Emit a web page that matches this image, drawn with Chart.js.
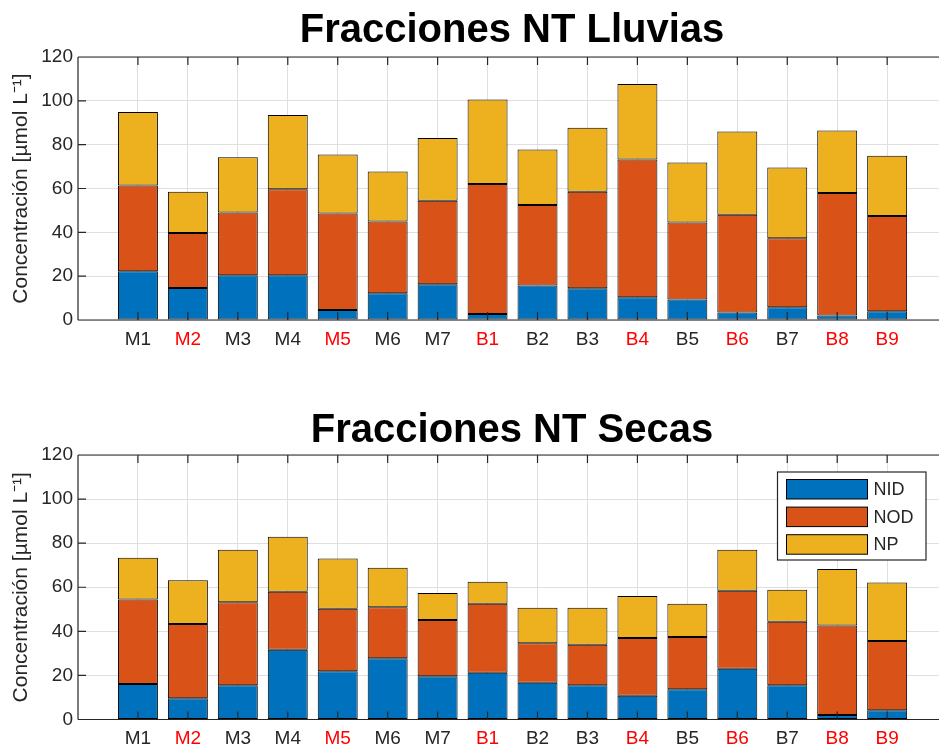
<!DOCTYPE html>
<html>
<head>
<meta charset="utf-8">
<script src="https://cdn.jsdelivr.net/npm/chart.js@4.4.1/dist/chart.umd.min.js"></script>
<style>
  html, body { margin: 0; padding: 0; background: #fff; overflow: hidden; width: 939px; height: 746px; }
  #wrap1 { position: absolute; left: 0; top: 0; width: 1024px; height: 370px; }
  #wrap2 { position: absolute; left: 0; top: 370px; width: 1024px; height: 376px; }
</style>
</head>
<body>
<div id="wrap1"><canvas id="c1" width="1024" height="370"></canvas></div>
<div id="wrap2"><canvas id="c2" width="1024" height="376"></canvas></div>
<script>
// ---- data ----
const categories = ['M1','M2','M3','M4','M5','M6','M7','B1','B2','B3','B4','B5','B6','B7','B8','B9'];
const redLabels = ['M2','M5','B1','B4','B6','B8','B9'];
const seriesNames = ['NID','NOD','NP'];

const lluviasNID = [22.2, 14.6, 20.4, 20.4, 4.6, 12.2, 16.3, 2.7, 15.7, 14.5, 10.4, 9.3, 3.4, 5.8, 2.1, 4.0];
const lluviasNOD = [39.2, 25.1, 28.6, 39.3, 44.0, 32.7, 38.1, 59.3, 36.8, 44.0, 62.8, 35.2, 44.6, 31.5, 55.8, 43.4];
const lluviasNP  = [33.5, 18.8, 25.3, 33.8, 26.9, 22.9, 28.6, 38.6, 25.3, 29.2, 34.5, 27.4, 38.0, 32.3, 28.6, 27.5];

const secasNID = [16.1, 9.6, 15.5, 31.7, 21.9, 27.8, 19.6, 21.2, 16.7, 15.5, 10.8, 13.7, 23.0, 15.5, 2.0, 4.2];
const secasNOD = [38.3, 33.7, 37.7, 26.3, 28.4, 23.1, 25.5, 31.3, 17.9, 18.4, 26.2, 23.7, 35.4, 28.9, 40.7, 31.4];
const secasNP  = [19.0, 19.9, 23.8, 24.9, 22.7, 18.0, 12.3, 10.0, 16.1, 16.8, 19.0, 15.1, 18.6, 14.5, 25.6, 26.5];

const yTicks = [0, 20, 40, 60, 80, 100, 120];
const yTitle = 'Concentración [µmol L⁻¹]';
const titles = ['Fracciones NT Lluvias', 'Fracciones NT Secas'];

// ---- styles ----
const colors = ['#0072BD', '#D95319', '#EDB120'];
const axisColor = '#262626';
const gridColor = '#dfdfdf';
Chart.defaults.font.family = 'Arial, "Liberation Sans", Helvetica, sans-serif';
Chart.defaults.color = axisColor;

function toPoints(arr) { return arr.map((v, i) => ({ x: i + 1, y: v })); }

const boxPlugin = {
  id: 'matlabBox',
  afterDraw(chart) {
    const { ctx, chartArea: a, scales } = chart;
    ctx.save();
    ctx.strokeStyle = axisColor;
    ctx.lineWidth = 1.2;
    ctx.beginPath();
    ctx.moveTo(a.left, a.bottom); ctx.lineTo(a.right, a.bottom);
    ctx.moveTo(a.left, a.top); ctx.lineTo(a.right, a.top);
    ctx.moveTo(a.left, a.top); ctx.lineTo(a.left, a.bottom);
    const tl = 8;
    categories.forEach((c, i) => {
      const x = scales.x.getPixelForValue(i + 1);
      ctx.moveTo(x, a.bottom); ctx.lineTo(x, a.bottom - tl);
      ctx.moveTo(x, a.top); ctx.lineTo(x, a.top + tl);
    });
    yTicks.forEach(v => {
      const y = scales.y.getPixelForValue(v);
      ctx.moveTo(a.left, y); ctx.lineTo(a.left + tl, y);
    });
    ctx.stroke();
    ctx.restore();
  }
};

const legendPlugin = {
  id: 'insideLegend',
  afterDraw(chart, args, opts) {
    if (!opts || !opts.show) return;
    const { ctx, chartArea: a } = chart;
    const bx = 777.5, by = a.top + 17, bw = 148.5, bh = 88;
    ctx.save();
    ctx.fillStyle = '#fff';
    ctx.fillRect(bx, by, bw, bh);
    ctx.strokeStyle = axisColor;
    ctx.lineWidth = 1.2;
    ctx.strokeRect(bx, by, bw, bh);
    ctx.font = '18px Arial, "Liberation Sans", sans-serif';
    ctx.textBaseline = 'middle';
    chart.data.datasets.forEach((ds, i) => {
      const cy = by + 17 + i * 27.6;
      ctx.fillStyle = ds.backgroundColor;
      ctx.fillRect(bx + 9, cy - 9.5, 81, 19.5);
      ctx.strokeStyle = '#000';
      ctx.lineWidth = 1;
      ctx.strokeRect(bx + 9, cy - 9.5, 81, 19.5);
      ctx.fillStyle = axisColor;
      ctx.fillText(ds.label, bx + 96, cy + 1);
    });
    ctx.restore();
  }
};

function makeChart(canvasId, title, nid, nod, np, titlePad, xAxisHeight, showLegend) {
  const series = [nid, nod, np];
  return new Chart(document.getElementById(canvasId), {
    type: 'bar',
    data: {
      datasets: series.map((arr, k) => ({
        label: seriesNames[k],
        data: toPoints(arr),
        backgroundColor: colors[k],
        borderColor: '#000',
        borderWidth: 1,
        borderSkipped: false,
        barPercentage: 0.8,
        categoryPercentage: 1.0
      }))
    },
    options: {
      responsive: false,
      animation: false,
      devicePixelRatio: 1,
      layout: { padding: 0 },
      plugins: {
        legend: { display: false },
        tooltip: { enabled: false },
        title: {
          display: true,
          text: title,
          color: '#000',
          font: { size: 40, weight: 'bold' },
          padding: titlePad
        },
        insideLegend: { show: showLegend }
      },
      scales: {
        x: {
          type: 'linear',
          stacked: true,
          offset: false,
          min: -0.2,
          max: 18.74,
          afterBuildTicks: (scale) => { scale.ticks = categories.map((c, i) => ({ value: i + 1 })); },
          afterFit: (scale) => { scale.height = xAxisHeight; },
          grid: { color: gridColor, drawTicks: false, lineWidth: 1, offset: false },
          border: { display: false },
          ticks: {
            autoSkip: false,
            maxRotation: 0,
            padding: 8,
            font: { size: 19 },
            callback: (v) => categories[Math.round(v) - 1],
            color: (ctx) => redLabels.includes(categories[ctx.index]) ? '#FF0000' : axisColor
          }
        },
        y: {
          stacked: true,
          min: 0,
          max: 120,
          afterBuildTicks: (scale) => { scale.ticks = yTicks.map(v => ({ value: v })); },
          afterFit: (scale) => { scale.width = 78; },
          grid: { color: gridColor, drawTicks: false, lineWidth: 1 },
          border: { display: false },
          ticks: { padding: 5, font: { size: 19 }, color: axisColor },
          title: {
            display: true,
            text: yTitle,
            color: axisColor,
            font: { size: 21 },
            padding: { top: 9, bottom: 0 }
          }
        }
      }
    },
    plugins: [boxPlugin, legendPlugin]
  });
}

makeChart('c1', titles[0], lluviasNID, lluviasNOD, lluviasNP, { top: 7, bottom: 2 }, 50, false);
makeChart('c2', titles[1], secasNID, secasNOD, secasNP, { top: 37, bottom: 0 }, 26.5, true);
</script>
</body>
</html>
